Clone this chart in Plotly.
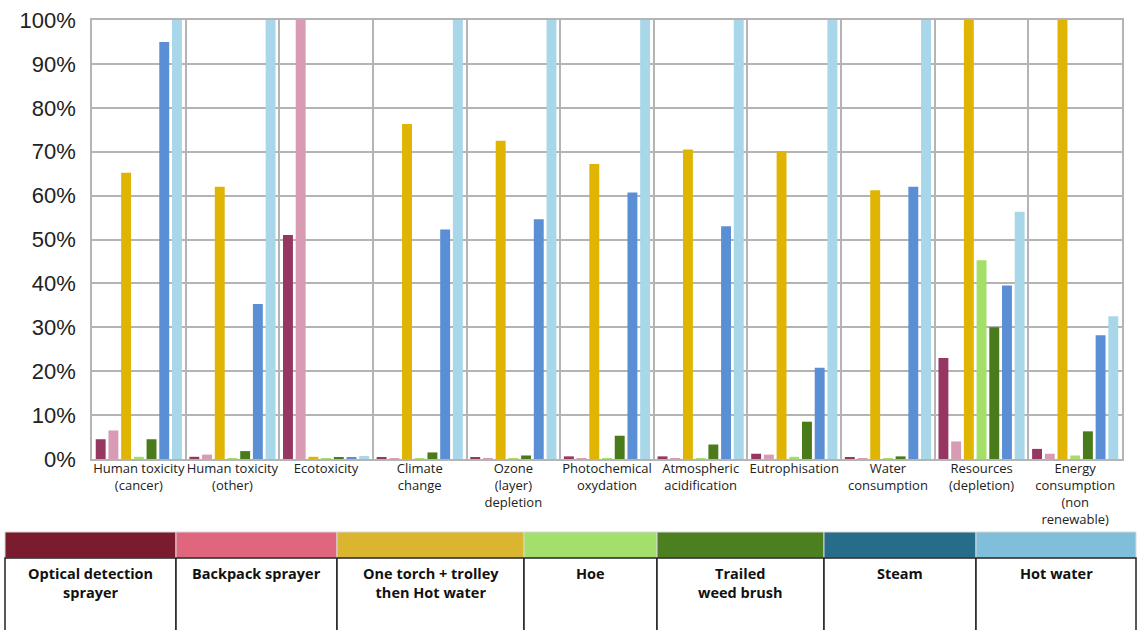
import plotly.graph_objects as go

categories = ["Human toxicity<br>(cancer)", "Human toxicity<br>(other)", "Ecotoxicity",
              "Climate<br>change", "Ozone<br>(layer)<br>depletion", "Photochemical<br>oxydation",
              "Atmospheric<br>acidification", "Eutrophisation", "Water<br>consumption",
              "Resources<br>(depletion)", "Energy<br>consumption<br>(non<br>renewable)"]

series_names = ["Optical detection sprayer", "Backpack sprayer", "One torch + trolley then Hot water",
                "Hoe", "Trailed weed brush", "Steam", "Hot water"]

optical = [4.5, 0.5, 51, 0.3, 0.3, 0.6, 0.6, 1.2, 0.3, 23, 2.3]
backpack = [6.5, 1.0, 100, 0.2, 0.2, 0.2, 0.2, 1.0, 0.2, 4.0, 1.2]
torch = [65.2, 62, 0.5, 76.3, 72.5, 67.2, 70.5, 70.1, 61.2, 100, 100]
hoe = [0.5, 0.2, 0.2, 0.2, 0.2, 0.2, 0.2, 0.5, 0.2, 45.3, 0.8]
trailed = [4.5, 1.8, 0.3, 1.5, 0.8, 5.3, 3.3, 8.5, 0.6, 30, 6.3]
steam = [95, 35.3, 0.3, 52.3, 54.6, 60.7, 53, 20.8, 62, 39.5, 28.2]
hot_water = [100, 100, 0.7, 100, 100, 100, 100, 100, 100, 56.3, 32.5]

y_ticks = [0, 10, 20, 30, 40, 50, 60, 70, 80, 90, 100]
y_tick_labels = ["0%", "10%", "20%", "30%", "40%", "50%", "60%", "70%", "80%", "90%", "100%"]

legend_labels = ["Optical detection<br>sprayer", "Backpack sprayer", "One torch + trolley<br>then Hot water",
                 "Hoe", "Trailed<br>weed brush", "Steam", "Hot water"]

bar_colors = ["#963762", "#d99ab4", "#dfb402", "#a4df68", "#4a7b1b", "#5b8fd5", "#a7d7e8"]
legend_colors = ["#7b1c2e", "#e0667e", "#dbb430", "#a3df6b", "#4b7f1f", "#276d8a", "#7fbfdb"]

values = [optical, backpack, torch, hoe, trailed, steam, hot_water]

fig = go.Figure()
for name, vals, col in zip(series_names, values, bar_colors):
    fig.add_trace(go.Bar(x=categories, y=vals, name=name, marker=dict(color=col, line=dict(width=0)),
                         showlegend=False))

W, H = 1139, 630
L, R, T, B = 92, 1122, 20, 459


def px(x):
    return (x - L) / (R - L)


def py(y):
    return (B - y) / (B - T)


shapes = []
annotations = []
col_edges = [5, 176, 337, 524, 657, 824, 976, 1136]
for i in range(7):
    x0, x1 = col_edges[i], col_edges[i + 1]
    shapes.append(dict(type="rect", xref="paper", yref="paper", x0=px(x0), x1=px(x1),
                       y0=py(558), y1=py(532), fillcolor=legend_colors[i],
                       line=dict(color="#d8d8d8", width=1), layer="above"))
    shapes.append(dict(type="rect", xref="paper", yref="paper", x0=px(x0), x1=px(x1),
                       y0=py(640), y1=py(558), fillcolor="white",
                       line=dict(color="#222222", width=1.5), layer="above"))
    annotations.append(dict(xref="paper", yref="paper", x=px((x0 + x1) / 2), y=py(562),
                            text="<b>" + legend_labels[i] + "</b>", showarrow=False,
                            xanchor="center", yanchor="top",
                            font=dict(family="Open Sans, Noto Sans, sans-serif", size=14.5, color="#111111")))

fig.update_layout(
    width=W, height=H,
    margin=dict(l=L, r=W - R, t=T, b=H - B),
    paper_bgcolor="white", plot_bgcolor="white",
    barmode="group", bargap=0.05, bargroupgap=0.22,
    shapes=shapes, annotations=annotations,
    xaxis=dict(tickson="boundaries", showgrid=True, gridcolor="#b4b4b4", gridwidth=1.5,
               showline=True, linecolor="#b4b4b4", linewidth=1.5, mirror=True,
               ticks="", tickfont=dict(family="Open Sans, Noto Sans, sans-serif", size=13, color="#222222"),
               tickangle=0, automargin=False, ticklabelstandoff=-3),
    yaxis=dict(range=[0, 100], tickvals=y_ticks, ticktext=y_tick_labels, showgrid=True,
               gridcolor="#b4b4b4", gridwidth=1.5, showline=True, linecolor="#b4b4b4",
               linewidth=1.5, mirror=True, ticks="", zeroline=False,
               tickfont=dict(family="Liberation Sans, Arial, sans-serif", size=22, color="#222222"),
               automargin=False, ticklabelstandoff=10),
)

fig.write_html("out.html", config={"displayModeBar": False},
               post_script="document.body.style.margin='0';document.body.style.padding='0';")
